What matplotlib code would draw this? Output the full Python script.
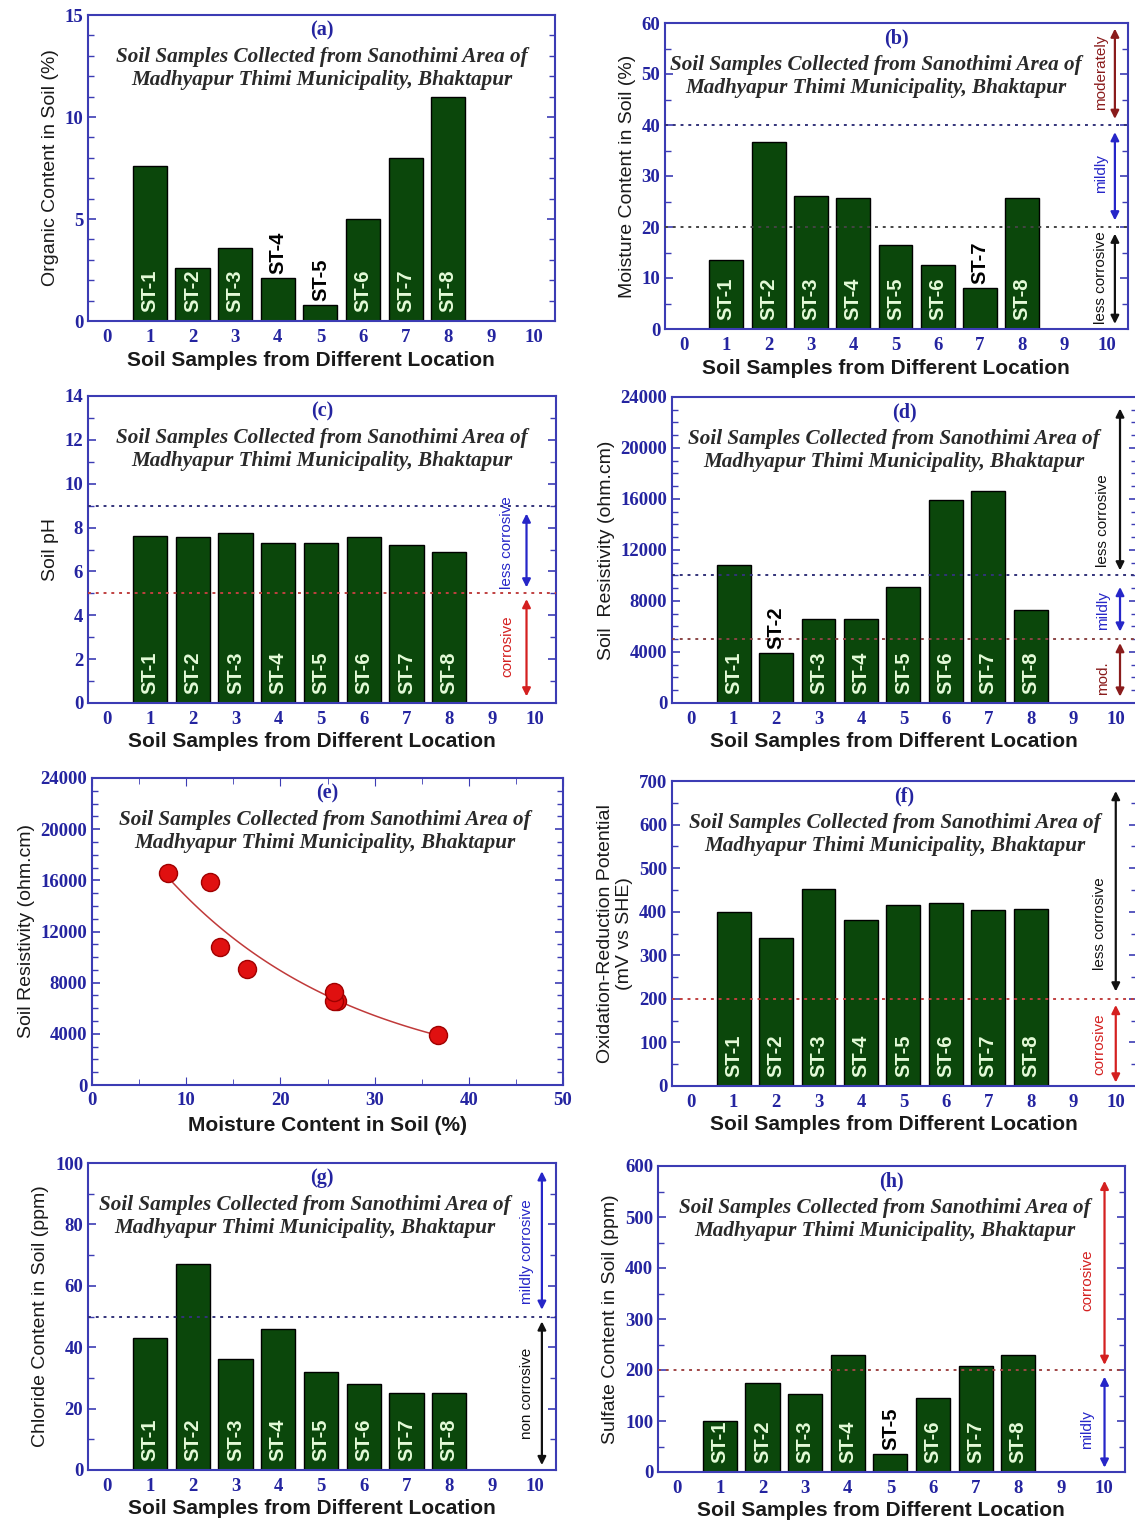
import numpy as np
import matplotlib
matplotlib.use("Agg")
import matplotlib.pyplot as plt
from matplotlib.ticker import MultipleLocator

samples = ["ST-1", "ST-2", "ST-3", "ST-4", "ST-5", "ST-6", "ST-7", "ST-8"]
positions = [1, 2, 3, 4, 5, 6, 7, 8]

organic = [7.6, 2.6, 3.6, 2.1, 0.8, 5.0, 8.0, 11.0]
moisture = [13.6, 36.7, 26.0, 25.7, 16.5, 12.5, 8.1, 25.7]
ph = [7.6, 7.55, 7.75, 7.3, 7.3, 7.55, 7.2, 6.9]
resistivity = [10800, 3900, 6600, 6600, 9100, 15900, 16600, 7300]
redox = [400, 340, 452, 380, 415, 420, 403, 407]
chloride = [43, 67, 36, 46, 32, 28, 25, 25]
sulfate = [100, 175, 152, 230, 35, 145, 208, 230]

subtitle = ("Soil Samples Collected from Sanothimi Area of\n"
            "Madhyapur Thimi Municipality, Bhaktapur")
xlabel = "Soil Samples from Different Location"

BAR = "#0b470b"
LBL = "#e4fbd8"
TICKC = "#2424a0"
SPINE = "#3c3cb4"
NAVY = "#33337a"
RED = "#d42020"
DRED = "#8a1c1c"
BLUE = "#2626c8"
BLACK = "#111111"

W, H = 1135, 1522
fig = plt.figure(figsize=(W / 100, H / 100), dpi=100)


def make_ax(l, t, r, b):
    return fig.add_axes([l / W, 1 - b / H, (r - l) / W, (b - t) / H])


def style(ax, ymax, major, minor, ylabel, letter, tx=0.5):
    for s in ax.spines.values():
        s.set_color(SPINE)
        s.set_linewidth(1.5)
    ax.set_ylim(0, ymax)
    ax.yaxis.set_major_locator(MultipleLocator(major))
    ax.yaxis.set_minor_locator(MultipleLocator(minor))
    ax.tick_params(axis="y", which="both", direction="in", left=True, right=True,
                   colors=SPINE, labelcolor=TICKC)
    ax.tick_params(axis="y", which="major", length=6, width=1.2)
    ax.tick_params(axis="y", which="minor", length=4, width=1)
    for lab in ax.get_yticklabels() + ax.get_xticklabels():
        lab.set_family("Liberation Serif")
        lab.set_fontweight("bold")
        lab.set_fontsize(13.5)
        lab.set_color(TICKC)
    ax.set_ylabel(ylabel, fontsize=14, family="Liberation Sans", color="#1a1a1a")
    ax.text(0.5, 0.95, "(" + letter + ")", transform=ax.transAxes, ha="center",
            va="center", fontsize=14.5, fontweight="bold", family="Liberation Serif",
            color=TICKC)
    ax.text(tx, 0.826, subtitle, transform=ax.transAxes, ha="center", va="center",
            fontsize=15.2, fontweight="bold", style="italic",
            family="Liberation Serif", color="#2a2a2a", linespacing=1.2)


def bar_panel(ax, values, ymax, major, minor, ylabel, letter, tx=0.5):
    ax.bar(positions, values, width=0.8, color=BAR, edgecolor="black",
           linewidth=1, zorder=2)
    ax.set_xlim(-0.45, 10.5)
    ax.set_xticks(range(0, 11))
    ax.tick_params(axis="x", length=0, pad=6)
    ax.set_xlabel(xlabel, fontsize=15, fontweight="bold",
                  family="Liberation Sans", color="#1a1a1a", labelpad=3)
    ax.xaxis.label.set_x(0.478)
    style(ax, ymax, major, minor, ylabel, letter, tx)
    for p, v, name in zip(positions, values, samples):
        if v / ymax < 0.165:
            ax.annotate(name, (p, v), xytext=(0, 3), textcoords="offset points",
                        rotation=90, ha="center", va="bottom", fontsize=14.5,
                        fontweight="bold", family="Liberation Sans",
                        color="black", zorder=4)
        else:
            ax.text(p, 0.028, name, transform=ax.get_xaxis_transform(),
                    rotation=90, ha="center", va="bottom", fontsize=14.5,
                    fontweight="bold", family="Liberation Sans", color=LBL,
                    zorder=4)


def hline(ax, y, color):
    ax.axhline(y, color=color, linestyle=(0, (1.5, 2.5)), linewidth=1.4, zorder=3)


def span(ax, x, y0, y1, color, text, tx, ty):
    ax.annotate("", xy=(x, y1), xytext=(x, y0),
                arrowprops=dict(arrowstyle="<|-|>", color=color, lw=1.6,
                                mutation_scale=12, shrinkA=0, shrinkB=0),
                zorder=5)
    ax.text(tx, ty, text, rotation=90, ha="center", va="center",
            fontsize=11, family="Liberation Sans", color=color, zorder=5)


# (a)
ax = make_ax(88, 15, 555, 321)
bar_panel(ax, organic, 15, 5, 1, "Organic Content in Soil (%)", "a", 0.5)

# (b)
ax = make_ax(665, 23, 1128, 329)
bar_panel(ax, moisture, 60, 10, 5, "Moisture Content in Soil (%)", "b", 0.455)
hline(ax, 40, NAVY)
hline(ax, 20, "#444444")
span(ax, 10.19, 41.2, 58.9, DRED, "moderately", 9.86, 50.4)
span(ax, 10.19, 21.3, 38.6, BLUE, "mildly", 9.86, 30.4)
span(ax, 10.19, 1.0, 18.7, BLACK, "less corrosive", 9.86, 10.1)

# (c)
ax = make_ax(88, 396, 556, 703)
bar_panel(ax, ph, 14, 2, 1, "Soil pH", "c", 0.5)
hline(ax, 9, NAVY)
hline(ax, 5, "#c04040")
span(ax, 9.81, 5.27, 8.64, BLUE, "less corrosive", 9.36, 7.3)
span(ax, 9.81, 0.3, 4.74, RED, "corrosive", 9.36, 2.6)

# (d)
ax = make_ax(672, 397, 1137, 703)
bar_panel(ax, resistivity, 24000, 4000, 1000, "Soil  Resistivity (ohm.cm)", "d", 0.478)
hline(ax, 10000, NAVY)
hline(ax, 5000, "#8a4545")
span(ax, 10.1, 10400, 23100, BLACK, "less corrosive", 9.7, 14300)
span(ax, 10.1, 5600, 9100, BLUE, "mildly", 9.7, 7270)
span(ax, 10.1, 500, 4700, DRED, "mod.", 9.7, 1950)

# (e)
ax = make_ax(92, 778, 563, 1085)
order = np.argsort(moisture)
mx = np.array(moisture)[order]
ry = np.array(resistivity)[order]
k, c = np.polyfit(mx, np.log(ry), 1)
fx = np.linspace(mx[0], mx[-1], 100)
ax.plot(fx, np.exp(c + k * fx), color="#c03a3a", lw=1.1, zorder=2)
ax.plot(moisture, resistivity, "o", color="#e01010", markeredgecolor="#a00000",
        markersize=13, zorder=3)
ax.set_xlim(0, 50)
ax.xaxis.set_major_locator(MultipleLocator(10))
ax.xaxis.set_minor_locator(MultipleLocator(5))
ax.tick_params(axis="x", which="both", direction="in", top=True, bottom=True,
               colors=SPINE, labelcolor=TICKC, pad=5)
ax.tick_params(axis="x", which="major", length=6)
ax.tick_params(axis="x", which="minor", length=4)
ax.set_xlabel("Moisture Content in Soil (%)", fontsize=15, fontweight="bold",
              family="Liberation Sans", color="#1a1a1a", labelpad=5)
style(ax, 24000, 4000, 1000, "Soil Resistivity (ohm.cm)", "e", 0.495)

# (f)
ax = make_ax(672, 781, 1137, 1086)
bar_panel(ax, redox, 700, 100, 50,
          "Oxidation-Reduction Potential\n(mV vs SHE)", "f", 0.48)
hline(ax, 200, "#c04040")
span(ax, 10.0, 217, 677, BLACK, "less corrosive", 9.62, 372)
span(ax, 10.0, 8, 186, RED, "corrosive", 9.62, 95)

# (g)
ax = make_ax(88, 1163, 556, 1470)
bar_panel(ax, chloride, 100, 20, 10, "Chloride Content in Soil (ppm)", "g", 0.464)
hline(ax, 50, NAVY)
span(ax, 10.17, 52.2, 97.3, BLUE, "mildly corrosive", 9.83, 71)
span(ax, 10.17, 1.6, 48.4, BLACK, "non corrosive", 9.83, 25)

# (h)
ax = make_ax(658, 1166, 1125, 1472)
bar_panel(ax, sulfate, 600, 100, 50, "Sulfate Content in Soil (ppm)", "h", 0.486)
hline(ax, 200, "#a04545")
span(ax, 10.02, 210, 571, RED, "corrosive", 9.62, 376)
span(ax, 10.02, 8.5, 187, BLUE, "mildly", 9.62, 83)

fig.savefig("out.png", dpi=100, facecolor="white")
